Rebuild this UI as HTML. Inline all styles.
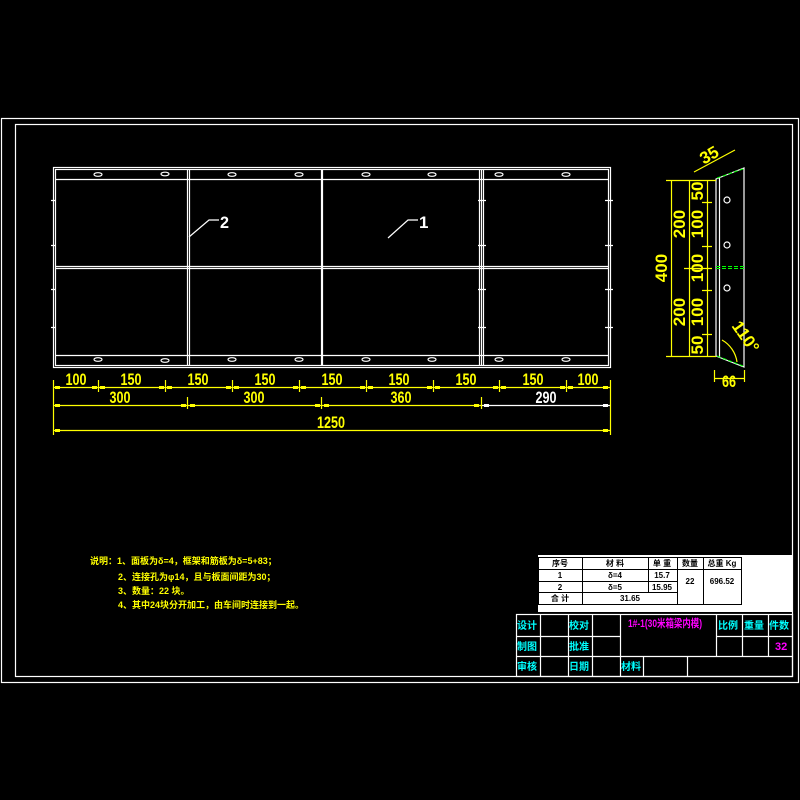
<!DOCTYPE html>
<html><head><meta charset="utf-8"><style>
html,body{margin:0;padding:0;background:#000;}
svg{display:block}
text{font-family:"Liberation Sans","Noto Sans CJK SC",sans-serif;}
</style></head><body>
<svg width="800" height="800" viewBox="0 0 800 800" xmlns="http://www.w3.org/2000/svg">
<rect width="800" height="800" fill="#000"/>
<g fill="none" stroke="#fff" stroke-width="1.2">
<rect x="1.5" y="118.5" width="797" height="564"/>
<rect x="15.5" y="124.5" width="777" height="552"/>
<rect x="53.5" y="167.5" width="557" height="200"/>
<rect x="55.5" y="169.5" width="553" height="196"/>
<line x1="55" y1="179.5" x2="608" y2="179.5"/>
<line x1="55" y1="355.5" x2="608" y2="355.5"/>
<line x1="55" y1="266.5" x2="608" y2="266.5"/>
<line x1="55" y1="268.5" x2="608" y2="268.5"/>
<line x1="187.5" y1="169" x2="187.5" y2="365"/>
<line x1="189.5" y1="169" x2="189.5" y2="365"/>
<line x1="321.5" y1="169" x2="321.5" y2="365"/>
<line x1="322.5" y1="169" x2="322.5" y2="365"/>
<line x1="479.5" y1="169" x2="479.5" y2="365"/>
<line x1="481.5" y1="169" x2="481.5" y2="365"/>
<line x1="483.5" y1="169" x2="483.5" y2="365"/>
<g>
<ellipse cx="98" cy="174.5" rx="4" ry="1.8"/><ellipse cx="165" cy="174" rx="4" ry="1.8"/>
<ellipse cx="232" cy="174.5" rx="4" ry="1.8"/><ellipse cx="299" cy="174.5" rx="4" ry="1.8"/>
<ellipse cx="366" cy="174.5" rx="4" ry="1.8"/><ellipse cx="432" cy="174.5" rx="4" ry="1.8"/>
<ellipse cx="499" cy="174.5" rx="4" ry="1.8"/><ellipse cx="566" cy="174.5" rx="4" ry="1.8"/>
<ellipse cx="98" cy="359.5" rx="4" ry="1.8"/><ellipse cx="165" cy="360.5" rx="4" ry="1.8"/>
<ellipse cx="232" cy="359.5" rx="4" ry="1.8"/><ellipse cx="299" cy="359.5" rx="4" ry="1.8"/>
<ellipse cx="366" cy="359.5" rx="4" ry="1.8"/><ellipse cx="432" cy="359.5" rx="4" ry="1.8"/>
<ellipse cx="499" cy="359.5" rx="4" ry="1.8"/><ellipse cx="566" cy="359.5" rx="4" ry="1.8"/>
</g>
<path d="M51 200.5h5M51 245.5h5M51 289.5h5M51 327.5h5M478 200.5h8M478 245.5h8M478 289.5h8M478 327.5h8M605 200.5h8M605 245.5h8M605 289.5h8M605 327.5h8"/>
<path d="M189 237 L209 220 H219"/>
<path d="M388 238 L408 220 H418"/>
<polygon points="716,179 744,168 744,367 716,356"/>
<line x1="719.5" y1="178" x2="719.5" y2="357"/>
<circle cx="727" cy="200" r="3"/><circle cx="727" cy="245" r="3"/><circle cx="727" cy="288" r="3"/>
<rect x="516.5" y="614.5" width="276" height="62"/>
<path d="M516 636.5H620M716 636.5H792M516 656.5H792"/>
<path d="M540.5 614v62M568.5 614v62M592.5 614v62M620.5 614v62M643.5 656v20M687.5 656v20M716.5 614v42M742.5 614v42M768.5 614v42"/>
</g>
<g fill="#fff" font-family="Liberation Serif,serif" font-size="17" font-weight="bold">
<text x="220" y="228" textLength="9" lengthAdjust="spacingAndGlyphs">2</text><text x="419" y="228">1</text>
</g>
<g stroke="#0f0" stroke-dasharray="4,2" fill="none">
<line x1="716" y1="266.5" x2="744" y2="266.5"/><line x1="716" y1="268.5" x2="744" y2="268.5"/>
<line x1="717" y1="178" x2="743" y2="169"/><line x1="717" y1="356" x2="743" y2="366"/>
</g>
<g stroke="#ff0" fill="none" stroke-width="1.2">
<line x1="53" y1="387.5" x2="610" y2="387.5"/>
<line x1="53" y1="405.5" x2="481" y2="405.5"/>
<line x1="481" y1="405.5" x2="610" y2="405.5" stroke="#fff"/>
<line x1="53" y1="430.5" x2="610" y2="430.5"/>
<path d="M53.5 380v55M98.5 380v12M165.5 380v12M232.5 380v12M299.5 380v12M366.5 380v12M433.5 380v12M499.5 380v12M566.5 380v12M610.5 380v55M187.5 397v12M321.5 397v12M481.5 397v12"/>
<line x1="671.5" y1="180" x2="671.5" y2="356"/>
<line x1="689.5" y1="180" x2="689.5" y2="356"/>
<line x1="707.5" y1="180" x2="707.5" y2="356"/>
<path d="M666 180.5h50M666 356.5h50M702 202.5h10M702 246.5h10M684 268.5h28M702 290.5h10M702 334.5h10"/>
<line x1="714" y1="378.5" x2="744" y2="378.5"/>
<path d="M714.5 370v12M744.5 370v12"/>
<line x1="694" y1="172" x2="735" y2="150"/>
<path d="M722 340 A30 30 0 0 1 737 362"/>
</g>
<g fill="#ff0">
<path d="M55 386h5v3h-5zM92 386h5v3h-5zM100 386h5v3h-5zM159 386h5v3h-5zM167 386h5v3h-5zM226 386h5v3h-5zM234 386h5v3h-5zM293 386h5v3h-5zM301 386h5v3h-5zM360 386h5v3h-5zM368 386h5v3h-5zM427 386h5v3h-5zM435 386h5v3h-5zM493 386h5v3h-5zM501 386h5v3h-5zM560 386h5v3h-5zM568 386h5v3h-5zM603 386h5v3h-5z"/>
<path d="M55 404h5v3h-5zM181 404h5v3h-5zM190 404h5v3h-5zM315 404h5v3h-5zM324 404h5v3h-5zM474 404h5v3h-5zM55 429h5v3h-5zM603 429h5v3h-5z"/>
</g>
<g fill="#fff"><path d="M484 404h5v3h-5zM603 404h5v3h-5z"/></g>
<g fill="#ff0" font-family="Liberation Serif,serif" font-size="17" font-weight="bold" text-anchor="middle" lengthAdjust="spacingAndGlyphs">
<text x="76" y="385" textLength="21" lengthAdjust="spacingAndGlyphs">100</text><text x="131" y="385" textLength="21" lengthAdjust="spacingAndGlyphs">150</text><text x="198" y="385" textLength="21" lengthAdjust="spacingAndGlyphs">150</text>
<text x="265" y="385" textLength="21" lengthAdjust="spacingAndGlyphs">150</text><text x="332" y="385" textLength="21" lengthAdjust="spacingAndGlyphs">150</text><text x="399" y="385" textLength="21" lengthAdjust="spacingAndGlyphs">150</text>
<text x="466" y="385" textLength="21" lengthAdjust="spacingAndGlyphs">150</text><text x="533" y="385" textLength="21" lengthAdjust="spacingAndGlyphs">150</text><text x="588" y="385" textLength="21" lengthAdjust="spacingAndGlyphs">100</text>
<text x="120" y="403" textLength="21" lengthAdjust="spacingAndGlyphs">300</text><text x="254" y="403" textLength="21" lengthAdjust="spacingAndGlyphs">300</text><text x="401" y="403" textLength="21" lengthAdjust="spacingAndGlyphs">360</text>
<text x="546" y="403" fill="#fff" textLength="21" lengthAdjust="spacingAndGlyphs">290</text>
<text x="331" y="428" textLength="28" lengthAdjust="spacingAndGlyphs">1250</text>
<text x="729" y="387" textLength="14" lengthAdjust="spacingAndGlyphs">66</text>
<text transform="translate(667,268) rotate(-90)">400</text>
<text transform="translate(685,224) rotate(-90)">200</text>
<text transform="translate(685,312) rotate(-90)">200</text>
<text transform="translate(703,191) rotate(-90)">50</text>
<text transform="translate(703,224) rotate(-90)">100</text>
<text transform="translate(703,268) rotate(-90)">100</text>
<text transform="translate(703,312) rotate(-90)">100</text>
<text transform="translate(703,345) rotate(-90)">50</text>
<text transform="translate(712,160) rotate(-30)">35</text>
<text transform="translate(741,340) rotate(55)">110°</text>
</g>
<g fill="#ff0" font-size="9" font-weight="bold" font-family="Liberation Sans,Noto Sans CJK SC,sans-serif">
<text x="90" y="564">说明：1、面板为δ=4，框架和筋板为δ=5+83；</text>
<text x="118" y="580">2、连接孔为φ14，且与板面间距为30；</text>
<text x="118" y="594">3、数量：22 块。</text>
<text x="118" y="608">4、其中24块分开加工，由车间时连接到一起。</text>
</g>
<rect x="538" y="555" width="254" height="57" fill="#fff"/>
<g stroke="#000" fill="none">
<rect x="538.5" y="557.5" width="203" height="47"/>
<path d="M538 569.5H741M538 581.5H677M538 592.5H677M703 569.5H741M582.5 557v47M648.5 557v35M677.5 557v47M703.5 557v47"/>
</g>
<g fill="#000" font-size="8" font-weight="bold" text-anchor="middle" font-family="Liberation Sans,Noto Sans CJK SC,sans-serif">
<text x="560" y="566">序号</text><text x="615" y="566">材 料</text><text x="662" y="566">单 重</text>
<text x="690" y="566">数量</text><text x="722" y="566">总重 Kg</text>
<text x="560" y="578">1</text><text x="615" y="578">δ=4</text><text x="662" y="578">15.7</text>
<text x="560" y="590">2</text><text x="615" y="590">δ=5</text><text x="662" y="590">15.95</text>
<text x="690" y="584">22</text><text x="722" y="584">696.52</text>
<text x="560" y="601">合 计</text><text x="630" y="601">31.65</text>
</g>
<g fill="#0ff" font-size="10" font-weight="bold" font-family="Liberation Sans,Noto Sans CJK SC,sans-serif">
<text x="517" y="629">设计</text><text x="569" y="629">校对</text>
<text x="517" y="650">制图</text><text x="569" y="650">批准</text>
<text x="517" y="670">审核</text><text x="569" y="670">日期</text><text x="621" y="670">材料</text>
<text x="718" y="629">比例</text><text x="744" y="629">重量</text><text x="769" y="629">件数</text>
</g>
<g fill="#f0f" font-size="11" font-weight="bold" font-family="Liberation Sans,Noto Sans CJK SC,sans-serif">
<text x="628" y="627" textLength="74" lengthAdjust="spacingAndGlyphs">1#-1(30米箱梁内模)</text>
<text x="775" y="650">32</text>
</g>
</svg>
</body></html>
